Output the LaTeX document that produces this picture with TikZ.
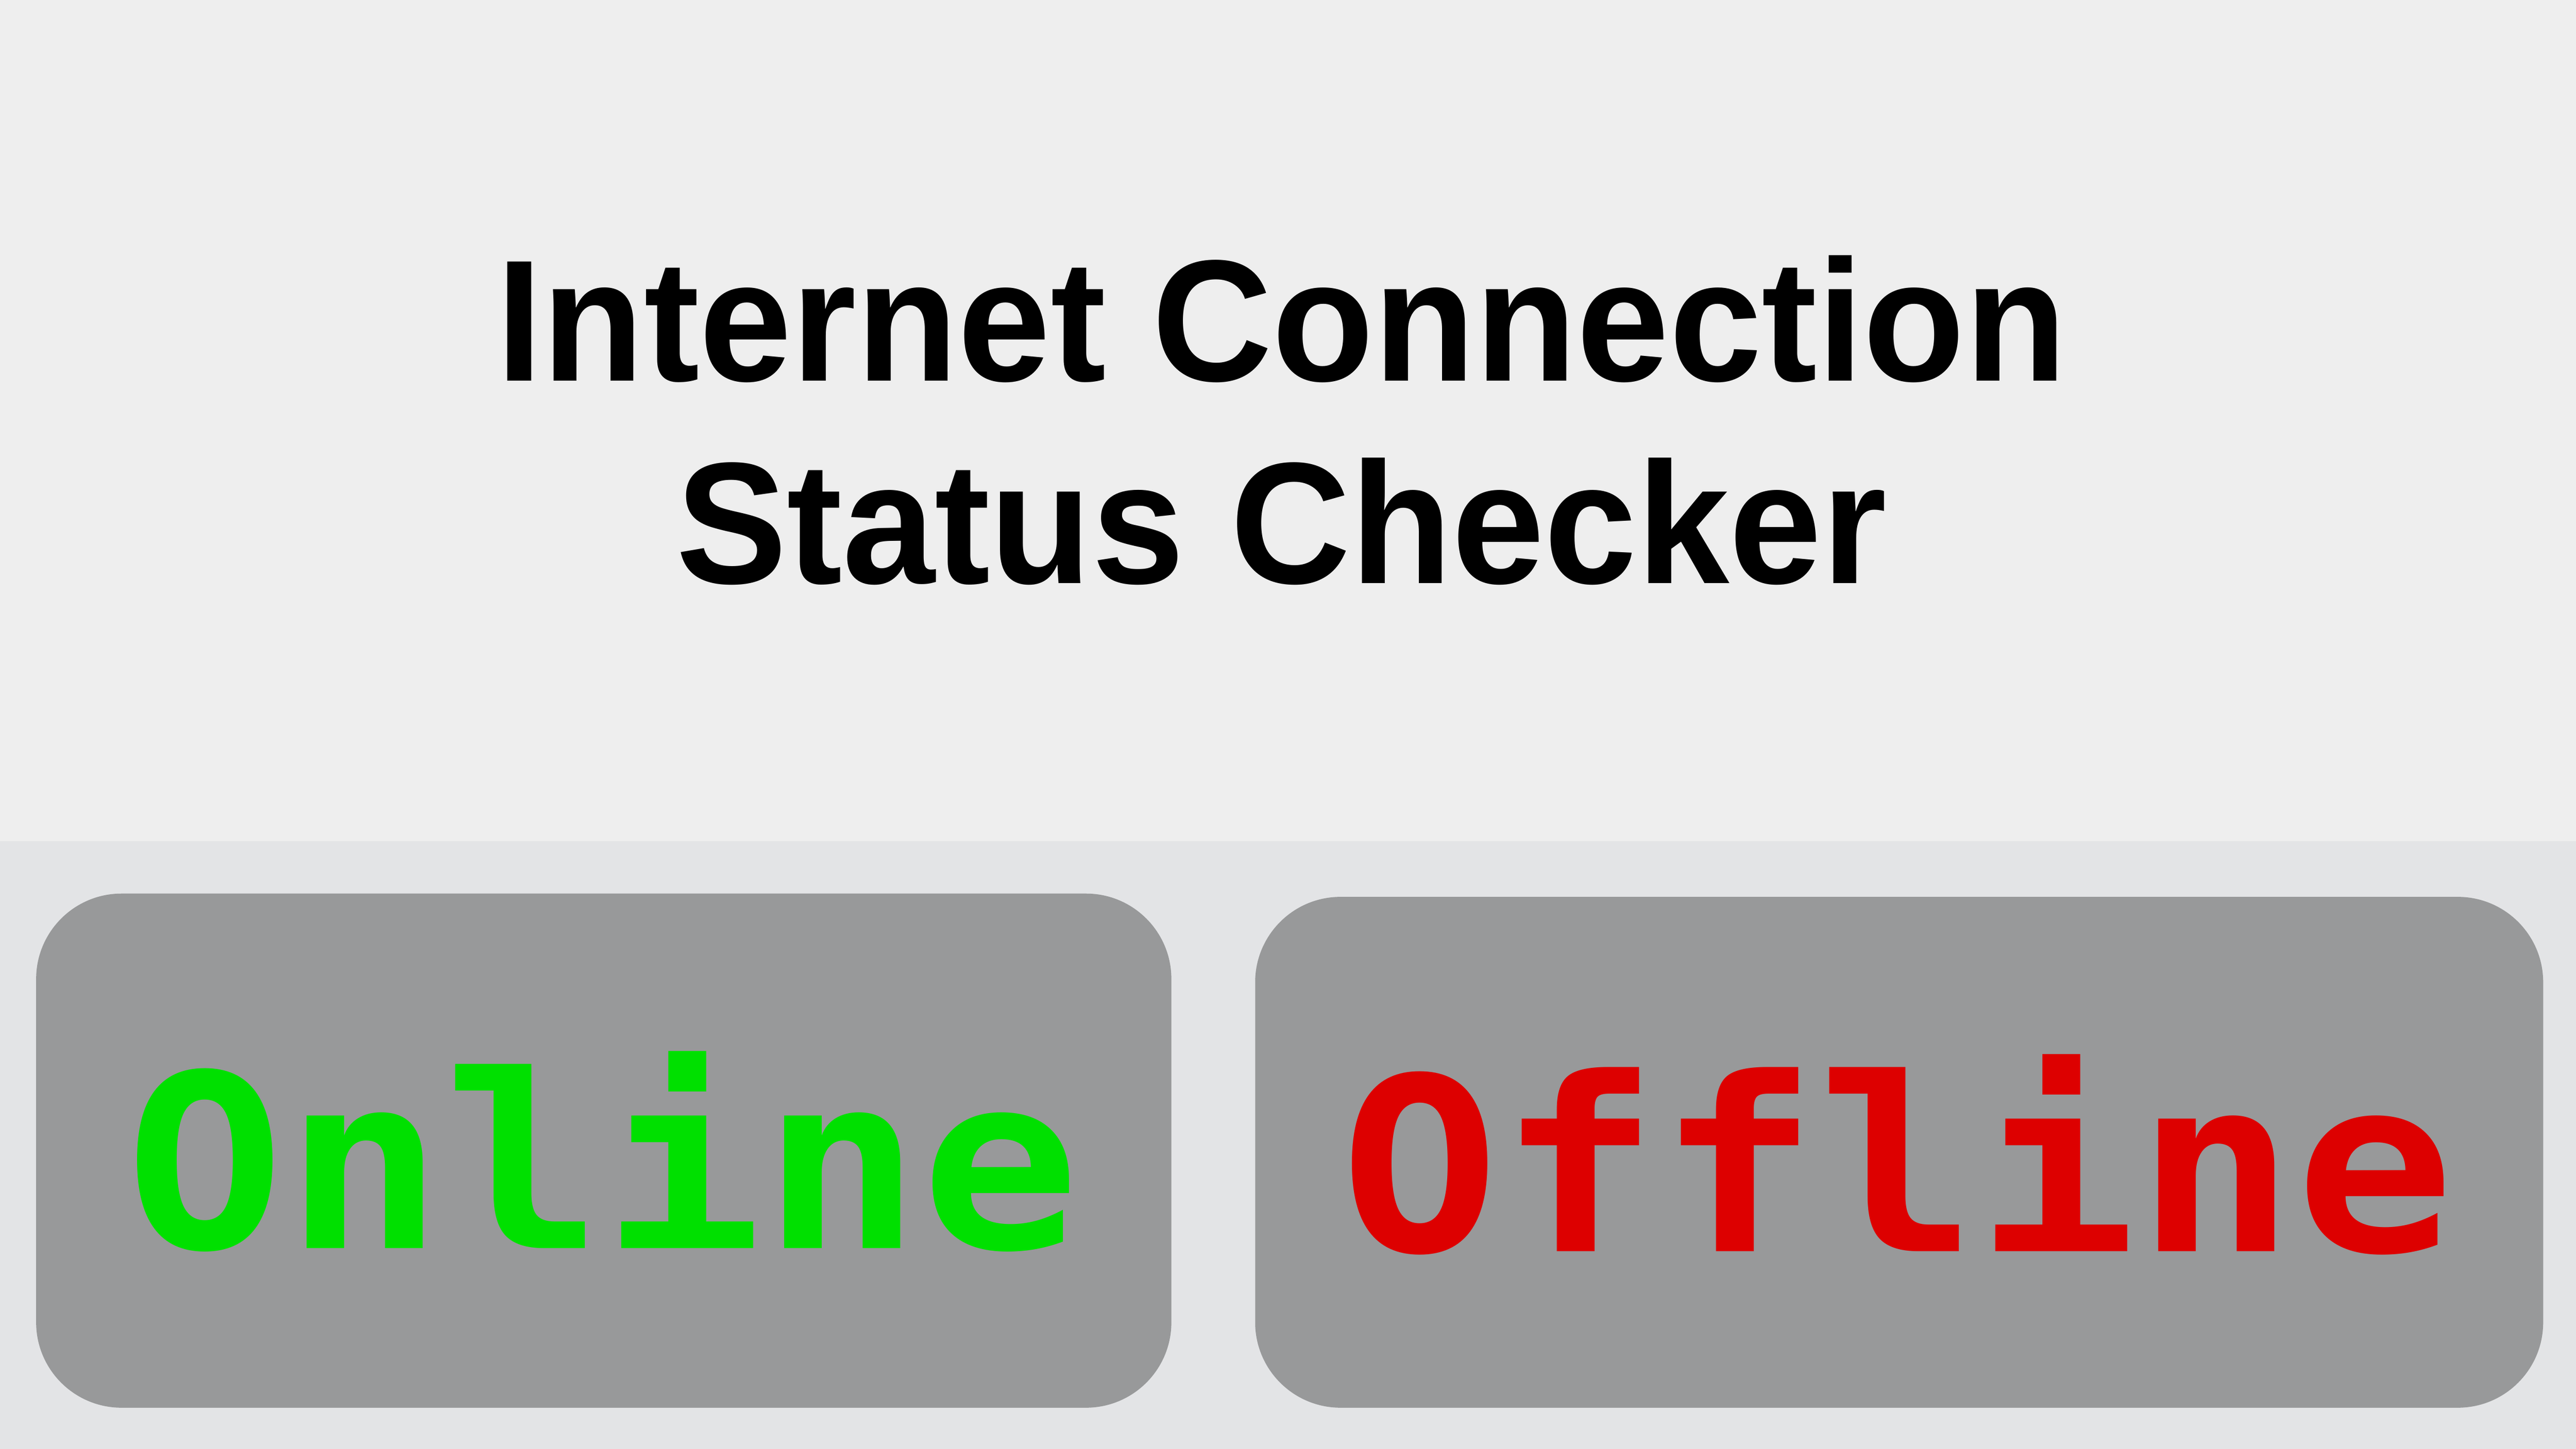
\documentclass[tikz,border=0pt]{standalone}
\usepackage{fontspec}
\setmainfont{Liberation Sans}
\newfontfamily\statusfont{DejaVu Sans Mono}
\usepackage{tikz}
\definecolor{topbg}{HTML}{EEEEEE}
\definecolor{botbg}{HTML}{E3E4E6}
\definecolor{btngray}{HTML}{98999A}
\definecolor{ongreen}{HTML}{00E000}
\definecolor{offred}{HTML}{DD0000}
\tikzset{btn/.style={fill=btngray, draw=none, rounded corners=0.52cm},
  titletext/.style={anchor=base, font=\bfseries\fontsize{30}{35}\selectfont, xscale=0.96},
  status/.style={anchor=base, font=\statusfont\bfseries\fontsize{42}{42}\selectfont, xscale=1.09}}

\begin{document}
\begin{tikzpicture}
\useasboundingbox (0,0) rectangle (15.68,8.82);
\fill[topbg](0,3.70) rectangle (15.68,8.82);
\fill[botbg](0,0) rectangle (15.68,3.70);
\node (title1) at (7.80,6.50)[titletext]{Internet Connection};
\node (title2) at (7.80,5.27)[titletext]{Status Checker};
\draw[btn](0.22,0.25) rectangle (7.13,3.38);
\draw[btn](7.64,0.25) rectangle (15.48,3.36);
\node (online) at (3.67,1.22)[status, text=ongreen]{Online};
\node (offline) at (11.55,1.20)[status, text=offred]{Offline};
\end{tikzpicture}
\end{document}
